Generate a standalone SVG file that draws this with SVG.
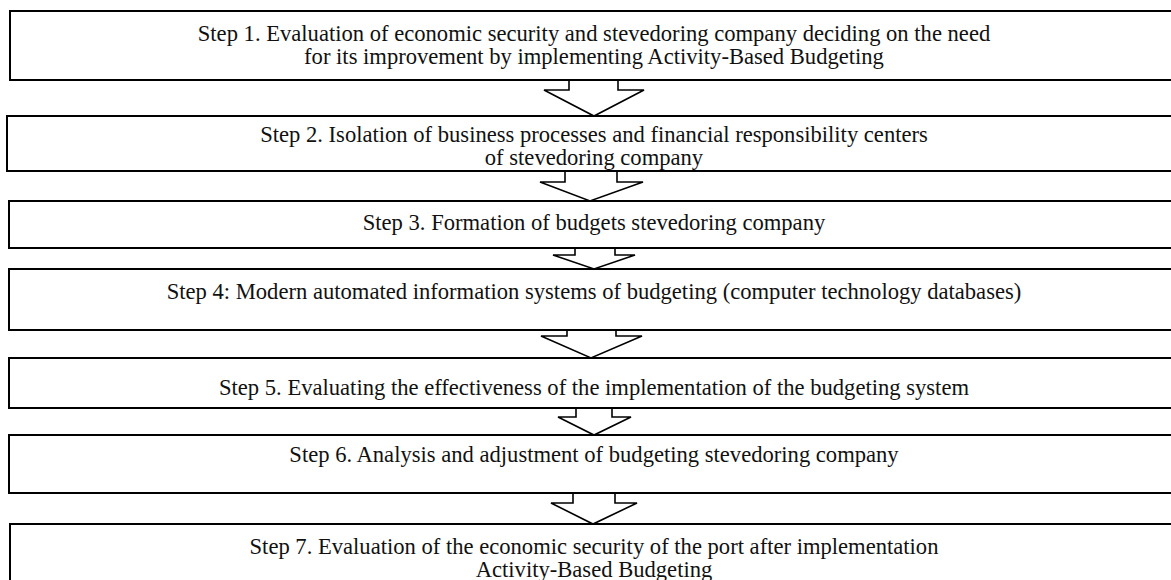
<svg xmlns="http://www.w3.org/2000/svg" width="1171" height="580" viewBox="0 0 1171 580">
  <style>
    .box { fill: #ffffff; stroke: #000000; stroke-width: 2; }
    .arrow { fill: #ffffff; stroke: #000000; stroke-width: 1.6; stroke-linejoin: miter; }
    .label { font-family: "Liberation Serif", "Times New Roman", serif; font-size: 22.6px; fill: #111111; text-anchor: middle; }
  </style>
  <rect x="0" y="0" width="1171" height="580" fill="#ffffff"/>

  <g id="connectors">
    <polygon class="arrow" points="569,80 618,80 618,90 644,90 594,116 544,90 569,90"/>
    <polygon class="arrow" points="565,171 617,171 617,182 643,182 590,201 540,182 565,182"/>
    <polygon class="arrow" points="575,248 615,248 615,255 635,255 594,269 553,255 575,255"/>
    <polygon class="arrow" points="567,330 616,330 616,336 642,336 591,358 541,336 567,336"/>
    <polygon class="arrow" points="576,408 612,408 612,417 631,417 594,435 558,417 576,417"/>
    <polygon class="arrow" points="573,493 615,493 615,503 637,503 593,524 551,503 573,503"/>
  </g>

  <g id="step1">
    <rect class="box" x="10" y="11" width="1170" height="69"/>
    <text class="label" x="594" y="41">Step 1. Evaluation of economic security and stevedoring company deciding on the need</text>
    <text class="label" x="594" y="64">for its improvement by implementing Activity-Based Budgeting</text>
  </g>

  <g id="step2">
    <rect class="box" x="7" y="116" width="1173" height="55"/>
    <text class="label" x="594" y="142">Step 2. Isolation of business processes and financial responsibility centers</text>
    <text class="label" x="594" y="165">of stevedoring company</text>
  </g>

  <g id="step3">
    <rect class="box" x="9" y="201" width="1171" height="47"/>
    <text class="label" x="594" y="230">Step 3. Formation of budgets stevedoring company</text>
  </g>

  <g id="step4">
    <rect class="box" x="9" y="269" width="1171" height="61"/>
    <text class="label" x="594" y="299">Step 4: Modern automated information systems of budgeting (computer technology databases)</text>
  </g>

  <g id="step5">
    <rect class="box" x="9" y="358" width="1171" height="50"/>
    <text class="label" x="594" y="395">Step 5. Evaluating the effectiveness of the implementation of the budgeting system</text>
  </g>

  <g id="step6">
    <rect class="box" x="9" y="435" width="1171" height="58"/>
    <text class="label" x="594" y="462">Step 6. Analysis and adjustment of budgeting stevedoring company</text>
  </g>

  <g id="step7">
    <rect class="box" x="10" y="524" width="1170" height="70"/>
    <text class="label" x="594" y="554">Step 7. Evaluation of the economic security of the port after implementation</text>
    <text class="label" x="594" y="577">Activity-Based Budgeting</text>
  </g>
</svg>
